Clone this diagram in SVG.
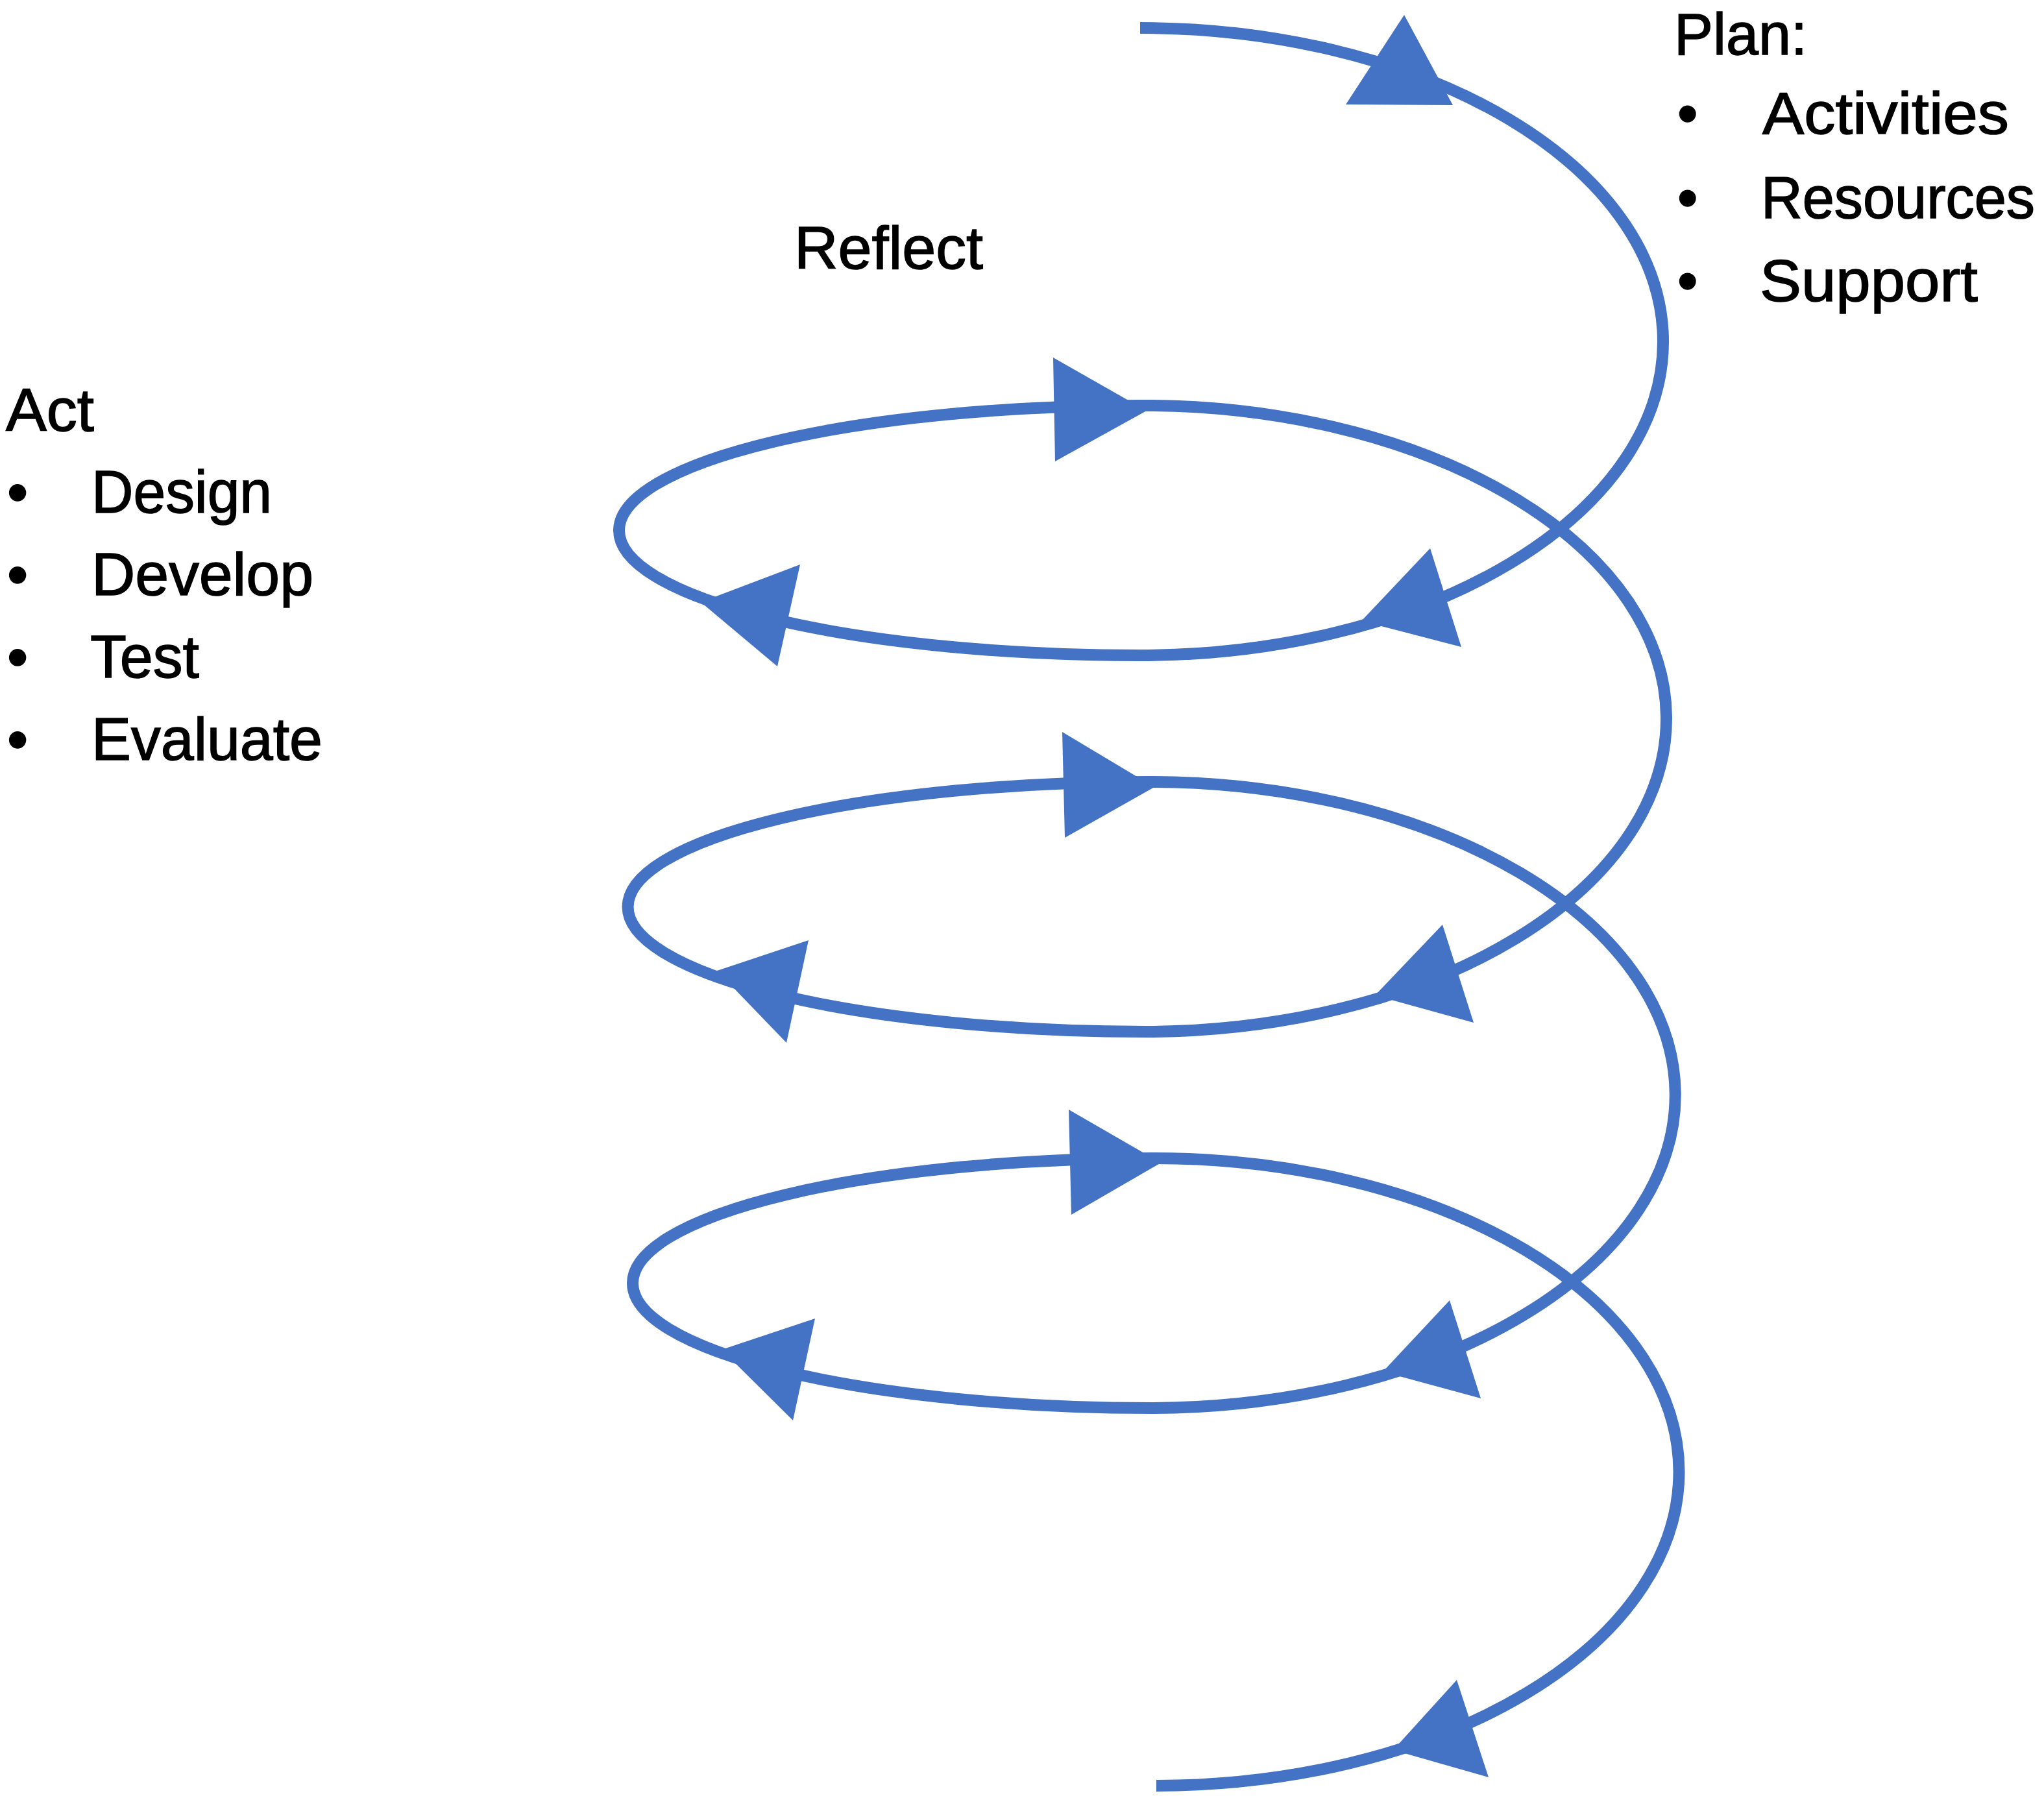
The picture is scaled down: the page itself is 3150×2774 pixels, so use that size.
<svg xmlns="http://www.w3.org/2000/svg" width="3150" height="2774" viewBox="0 0 3150 2774">
  <style>
    .line { fill: none; stroke: #4472C4; stroke-width: 18; }
    .head { fill: #4472C4; stroke: none; }
    .lbl { font-family: "Liberation Sans", Arial, sans-serif; fill: #000000; stroke: #000000; stroke-width: 1.5; }
    .big { font-size: 92px; }
    .med { font-size: 90px; }
  </style>
  <rect width="3150" height="2774" fill="#ffffff"/>

  <g id="connectors">
    <path class="line" d="M 1757 43 A 806 483.5 0 0 1 1757 1010 A 803 192.5 0 0 1 1757 625 A 806 482.5 0 0 1 1767 1590 A 800 192.5 0 0 1 1767 1205 A 810 482.5 0 0 1 1777 2170 A 802 192.5 0 0 1 1777 1785 A 808 483.5 0 0 1 1782 2752"/>
    <!-- top -->
    <polygon class="head" points="2164,23 2074,161 2239,162"/>
    <!-- loop 1 -->
    <polygon class="head" points="1623,551 1626,711 1767,633"/>
    <polygon class="head" points="1233,870 1080,928 1198,1027"/>
    <polygon class="head" points="2204,845 2098,957 2252,997"/>
    <!-- loop 2 -->
    <polygon class="head" points="1637,1128 1641,1291 1779,1213"/>
    <polygon class="head" points="1246,1449 1105,1496 1212,1607"/>
    <polygon class="head" points="2223,1425 2119,1534 2271,1576"/>
    <!-- loop 3 -->
    <polygon class="head" points="1647,1710 1651,1872 1789,1792"/>
    <polygon class="head" points="1256,2032 1112,2080 1222,2189"/>
    <polygon class="head" points="2234,2004 2131,2114 2282,2155"/>
    <!-- bottom -->
    <polygon class="head" points="2245,2589 2147,2697 2294,2739"/>
  </g>

  <g id="plan">
    <text class="lbl med" x="2580" y="84" textLength="205" lengthAdjust="spacingAndGlyphs">Plan:</text>
    <text class="lbl med" x="2585" y="206">•</text>
    <text class="lbl med" x="2716" y="206" textLength="380" lengthAdjust="spacingAndGlyphs">Activities</text>
    <text class="lbl med" x="2585" y="336">•</text>
    <text class="lbl med" x="2714" y="336" textLength="422" lengthAdjust="spacingAndGlyphs">Resources</text>
    <text class="lbl med" x="2585" y="464">•</text>
    <text class="lbl med" x="2712" y="464" textLength="336" lengthAdjust="spacingAndGlyphs">Support</text>
  </g>

  <g id="reflect">
    <text class="lbl big" x="1224" y="414" textLength="291" lengthAdjust="spacingAndGlyphs">Reflect</text>
  </g>

  <g id="act">
    <text class="lbl big" x="9" y="664" textLength="136" lengthAdjust="spacingAndGlyphs">Act</text>
    <text class="lbl big" x="11" y="790">•</text>
    <text class="lbl big" x="141" y="790" textLength="278" lengthAdjust="spacingAndGlyphs">Design</text>
    <text class="lbl big" x="11" y="917">•</text>
    <text class="lbl big" x="141" y="917" textLength="342" lengthAdjust="spacingAndGlyphs">Develop</text>
    <text class="lbl big" x="11" y="1044">•</text>
    <text class="lbl big" x="139" y="1044" textLength="168" lengthAdjust="spacingAndGlyphs">Test</text>
    <text class="lbl big" x="11" y="1171">•</text>
    <text class="lbl big" x="141" y="1171" textLength="356" lengthAdjust="spacingAndGlyphs">Evaluate</text>
  </g>
</svg>
